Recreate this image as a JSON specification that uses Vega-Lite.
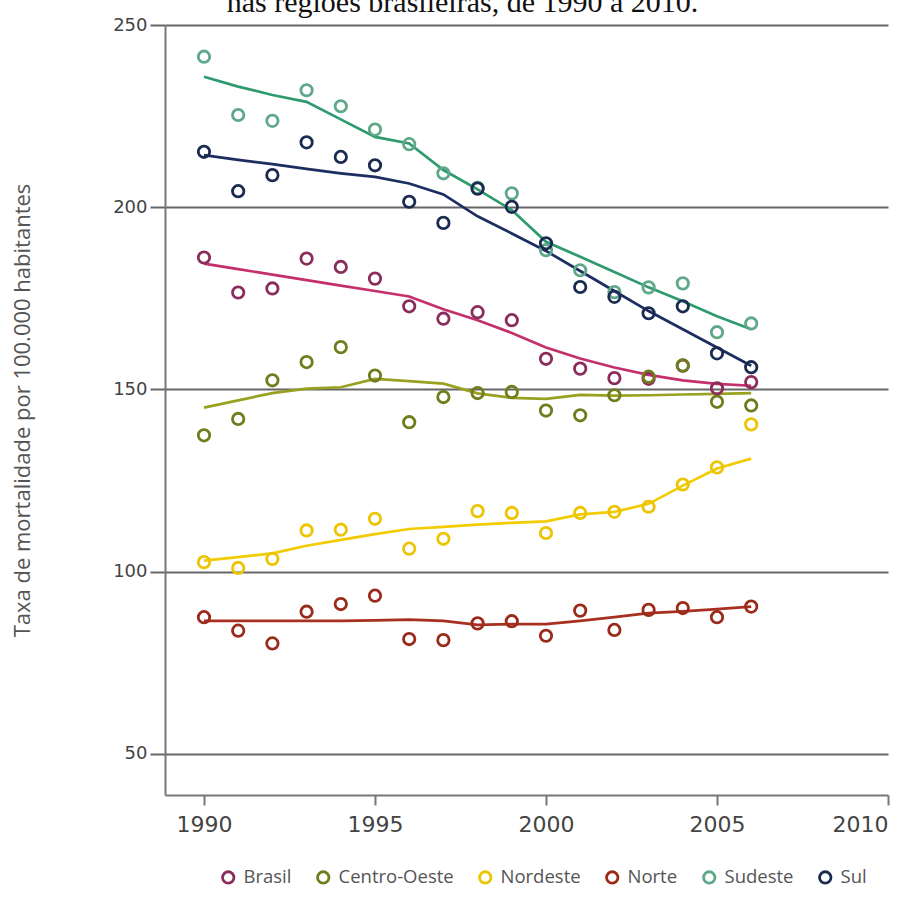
{
  "$schema": "https://vega.github.io/schema/vega-lite/v6.json",
  "width": 723,
  "height": 770,
  "autosize": {"type": "none"},
  "padding": {"left": 165, "top": 25, "right": 30, "bottom": 107},
  "background": "white",
  "title": {
    "text": "nas regiões brasileiras, de 1990 a 2010.",
    "font": "Liberation Serif",
    "fontSize": 30,
    "fontWeight": "normal",
    "color": "#111111",
    "anchor": "middle",
    "frame": "group",
    "dx": -64,
    "offset": -26,
    "baseline": "alphabetic"
  },
  "datasets": {
    "pts": [
      {"year": 1990, "region": "Brasil", "value": 186.2},
      {"year": 1991, "region": "Brasil", "value": 176.6},
      {"year": 1992, "region": "Brasil", "value": 177.7},
      {"year": 1993, "region": "Brasil", "value": 185.9},
      {"year": 1994, "region": "Brasil", "value": 183.6},
      {"year": 1995, "region": "Brasil", "value": 180.4},
      {"year": 1996, "region": "Brasil", "value": 172.8},
      {"year": 1997, "region": "Brasil", "value": 169.4},
      {"year": 1998, "region": "Brasil", "value": 171.2},
      {"year": 1999, "region": "Brasil", "value": 169.0},
      {"year": 2000, "region": "Brasil", "value": 158.4},
      {"year": 2001, "region": "Brasil", "value": 155.7},
      {"year": 2002, "region": "Brasil", "value": 153.1},
      {"year": 2003, "region": "Brasil", "value": 152.9},
      {"year": 2004, "region": "Brasil", "value": 156.5},
      {"year": 2005, "region": "Brasil", "value": 150.3},
      {"year": 2006, "region": "Brasil", "value": 152.0},
      {"year": 1990, "region": "Centro-Oeste", "value": 137.4},
      {"year": 1991, "region": "Centro-Oeste", "value": 141.9},
      {"year": 1992, "region": "Centro-Oeste", "value": 152.5},
      {"year": 1993, "region": "Centro-Oeste", "value": 157.5},
      {"year": 1994, "region": "Centro-Oeste", "value": 161.6},
      {"year": 1995, "region": "Centro-Oeste", "value": 153.8},
      {"year": 1996, "region": "Centro-Oeste", "value": 141.0},
      {"year": 1997, "region": "Centro-Oeste", "value": 147.9},
      {"year": 1998, "region": "Centro-Oeste", "value": 149.0},
      {"year": 1999, "region": "Centro-Oeste", "value": 149.3},
      {"year": 2000, "region": "Centro-Oeste", "value": 144.2},
      {"year": 2001, "region": "Centro-Oeste", "value": 142.9},
      {"year": 2002, "region": "Centro-Oeste", "value": 148.4},
      {"year": 2003, "region": "Centro-Oeste", "value": 153.5},
      {"year": 2004, "region": "Centro-Oeste", "value": 156.6},
      {"year": 2005, "region": "Centro-Oeste", "value": 146.6},
      {"year": 2006, "region": "Centro-Oeste", "value": 145.6},
      {"year": 1990, "region": "Nordeste", "value": 102.6},
      {"year": 1991, "region": "Nordeste", "value": 101.0},
      {"year": 1992, "region": "Nordeste", "value": 103.5},
      {"year": 1993, "region": "Nordeste", "value": 111.3},
      {"year": 1994, "region": "Nordeste", "value": 111.5},
      {"year": 1995, "region": "Nordeste", "value": 114.5},
      {"year": 1996, "region": "Nordeste", "value": 106.3},
      {"year": 1997, "region": "Nordeste", "value": 109.0},
      {"year": 1998, "region": "Nordeste", "value": 116.6},
      {"year": 1999, "region": "Nordeste", "value": 116.1},
      {"year": 2000, "region": "Nordeste", "value": 110.6},
      {"year": 2001, "region": "Nordeste", "value": 116.1},
      {"year": 2002, "region": "Nordeste", "value": 116.4},
      {"year": 2003, "region": "Nordeste", "value": 117.8},
      {"year": 2004, "region": "Nordeste", "value": 123.9},
      {"year": 2005, "region": "Nordeste", "value": 128.6},
      {"year": 2006, "region": "Nordeste", "value": 140.4},
      {"year": 1990, "region": "Norte", "value": 87.5},
      {"year": 1991, "region": "Norte", "value": 83.8},
      {"year": 1992, "region": "Norte", "value": 80.3},
      {"year": 1993, "region": "Norte", "value": 89.0},
      {"year": 1994, "region": "Norte", "value": 91.1},
      {"year": 1995, "region": "Norte", "value": 93.4},
      {"year": 1996, "region": "Norte", "value": 81.5},
      {"year": 1997, "region": "Norte", "value": 81.2},
      {"year": 1998, "region": "Norte", "value": 85.8},
      {"year": 1999, "region": "Norte", "value": 86.4},
      {"year": 2000, "region": "Norte", "value": 82.4},
      {"year": 2001, "region": "Norte", "value": 89.3},
      {"year": 2002, "region": "Norte", "value": 84.0},
      {"year": 2003, "region": "Norte", "value": 89.5},
      {"year": 2004, "region": "Norte", "value": 90.0},
      {"year": 2005, "region": "Norte", "value": 87.5},
      {"year": 2006, "region": "Norte", "value": 90.4},
      {"year": 1990, "region": "Sudeste", "value": 241.3},
      {"year": 1991, "region": "Sudeste", "value": 225.3},
      {"year": 1992, "region": "Sudeste", "value": 223.7},
      {"year": 1993, "region": "Sudeste", "value": 232.1},
      {"year": 1994, "region": "Sudeste", "value": 227.7},
      {"year": 1995, "region": "Sudeste", "value": 221.3},
      {"year": 1996, "region": "Sudeste", "value": 217.3},
      {"year": 1997, "region": "Sudeste", "value": 209.3},
      {"year": 1998, "region": "Sudeste", "value": 205.3},
      {"year": 1999, "region": "Sudeste", "value": 203.8},
      {"year": 2000, "region": "Sudeste", "value": 188.2},
      {"year": 2001, "region": "Sudeste", "value": 182.7},
      {"year": 2002, "region": "Sudeste", "value": 176.7},
      {"year": 2003, "region": "Sudeste", "value": 178.0},
      {"year": 2004, "region": "Sudeste", "value": 179.1},
      {"year": 2005, "region": "Sudeste", "value": 165.7},
      {"year": 2006, "region": "Sudeste", "value": 168.1},
      {"year": 1990, "region": "Sul", "value": 215.2},
      {"year": 1991, "region": "Sul", "value": 204.4},
      {"year": 1992, "region": "Sul", "value": 208.8},
      {"year": 1993, "region": "Sul", "value": 217.8},
      {"year": 1994, "region": "Sul", "value": 213.8},
      {"year": 1995, "region": "Sul", "value": 211.5},
      {"year": 1996, "region": "Sul", "value": 201.5},
      {"year": 1997, "region": "Sul", "value": 195.7},
      {"year": 1998, "region": "Sul", "value": 205.1},
      {"year": 1999, "region": "Sul", "value": 200.1},
      {"year": 2000, "region": "Sul", "value": 190.1},
      {"year": 2001, "region": "Sul", "value": 178.1},
      {"year": 2002, "region": "Sul", "value": 175.4},
      {"year": 2003, "region": "Sul", "value": 170.9},
      {"year": 2004, "region": "Sul", "value": 172.8},
      {"year": 2005, "region": "Sul", "value": 159.9},
      {"year": 2006, "region": "Sul", "value": 156.1}
    ],
    "fit": [
      {"year": 1990, "regiao": "Brasil", "value": 184.5},
      {"year": 1991, "regiao": "Brasil", "value": 183.0},
      {"year": 1992, "regiao": "Brasil", "value": 181.5},
      {"year": 1993, "regiao": "Brasil", "value": 180.0},
      {"year": 1994, "regiao": "Brasil", "value": 178.5},
      {"year": 1995, "regiao": "Brasil", "value": 177.0},
      {"year": 1996, "regiao": "Brasil", "value": 175.5},
      {"year": 1997, "regiao": "Brasil", "value": 172.0},
      {"year": 1998, "regiao": "Brasil", "value": 169.0},
      {"year": 1999, "regiao": "Brasil", "value": 165.5},
      {"year": 2000, "regiao": "Brasil", "value": 161.5},
      {"year": 2001, "regiao": "Brasil", "value": 158.5},
      {"year": 2002, "regiao": "Brasil", "value": 156.0},
      {"year": 2003, "regiao": "Brasil", "value": 154.0},
      {"year": 2004, "regiao": "Brasil", "value": 152.5},
      {"year": 2005, "regiao": "Brasil", "value": 151.5},
      {"year": 2006, "regiao": "Brasil", "value": 151.0},
      {"year": 1990, "regiao": "Centro-Oeste", "value": 145.0},
      {"year": 1991, "regiao": "Centro-Oeste", "value": 147.0},
      {"year": 1992, "regiao": "Centro-Oeste", "value": 149.0},
      {"year": 1993, "regiao": "Centro-Oeste", "value": 150.2},
      {"year": 1994, "regiao": "Centro-Oeste", "value": 150.6},
      {"year": 1995, "regiao": "Centro-Oeste", "value": 152.9},
      {"year": 1996, "regiao": "Centro-Oeste", "value": 152.3},
      {"year": 1997, "regiao": "Centro-Oeste", "value": 151.6},
      {"year": 1998, "regiao": "Centro-Oeste", "value": 148.9},
      {"year": 1999, "regiao": "Centro-Oeste", "value": 147.7},
      {"year": 2000, "regiao": "Centro-Oeste", "value": 147.4},
      {"year": 2001, "regiao": "Centro-Oeste", "value": 148.5},
      {"year": 2002, "regiao": "Centro-Oeste", "value": 148.3},
      {"year": 2003, "regiao": "Centro-Oeste", "value": 148.4},
      {"year": 2004, "regiao": "Centro-Oeste", "value": 148.6},
      {"year": 2005, "regiao": "Centro-Oeste", "value": 148.8},
      {"year": 2006, "regiao": "Centro-Oeste", "value": 149.0},
      {"year": 1990, "regiao": "Nordeste", "value": 103.0},
      {"year": 1991, "regiao": "Nordeste", "value": 104.0},
      {"year": 1992, "regiao": "Nordeste", "value": 105.0},
      {"year": 1993, "regiao": "Nordeste", "value": 107.1},
      {"year": 1994, "regiao": "Nordeste", "value": 108.7},
      {"year": 1995, "regiao": "Nordeste", "value": 110.3},
      {"year": 1996, "regiao": "Nordeste", "value": 111.7},
      {"year": 1997, "regiao": "Nordeste", "value": 112.3},
      {"year": 1998, "regiao": "Nordeste", "value": 112.9},
      {"year": 1999, "regiao": "Nordeste", "value": 113.4},
      {"year": 2000, "regiao": "Nordeste", "value": 113.8},
      {"year": 2001, "regiao": "Nordeste", "value": 115.7},
      {"year": 2002, "regiao": "Nordeste", "value": 116.4},
      {"year": 2003, "regiao": "Nordeste", "value": 118.6},
      {"year": 2004, "regiao": "Nordeste", "value": 123.6},
      {"year": 2005, "regiao": "Nordeste", "value": 128.3},
      {"year": 2006, "regiao": "Nordeste", "value": 131.0},
      {"year": 1990, "regiao": "Norte", "value": 86.5},
      {"year": 1991, "regiao": "Norte", "value": 86.5},
      {"year": 1992, "regiao": "Norte", "value": 86.5},
      {"year": 1993, "regiao": "Norte", "value": 86.5},
      {"year": 1994, "regiao": "Norte", "value": 86.5},
      {"year": 1995, "regiao": "Norte", "value": 86.6},
      {"year": 1996, "regiao": "Norte", "value": 86.8},
      {"year": 1997, "regiao": "Norte", "value": 86.5},
      {"year": 1998, "regiao": "Norte", "value": 85.4},
      {"year": 1999, "regiao": "Norte", "value": 85.6},
      {"year": 2000, "regiao": "Norte", "value": 85.6},
      {"year": 2001, "regiao": "Norte", "value": 86.5},
      {"year": 2002, "regiao": "Norte", "value": 87.5},
      {"year": 2003, "regiao": "Norte", "value": 88.6},
      {"year": 2004, "regiao": "Norte", "value": 89.1},
      {"year": 2005, "regiao": "Norte", "value": 89.7},
      {"year": 2006, "regiao": "Norte", "value": 90.4},
      {"year": 1990, "regiao": "Sudeste", "value": 235.8},
      {"year": 1991, "regiao": "Sudeste", "value": 233.1},
      {"year": 1992, "regiao": "Sudeste", "value": 230.8},
      {"year": 1993, "regiao": "Sudeste", "value": 228.9},
      {"year": 1994, "regiao": "Sudeste", "value": 224.1},
      {"year": 1995, "regiao": "Sudeste", "value": 219.3},
      {"year": 1996, "regiao": "Sudeste", "value": 217.5},
      {"year": 1997, "regiao": "Sudeste", "value": 210.2},
      {"year": 1998, "regiao": "Sudeste", "value": 204.9},
      {"year": 1999, "regiao": "Sudeste", "value": 199.2},
      {"year": 2000, "regiao": "Sudeste", "value": 190.5},
      {"year": 2001, "regiao": "Sudeste", "value": 186.4},
      {"year": 2002, "regiao": "Sudeste", "value": 182.2},
      {"year": 2003, "regiao": "Sudeste", "value": 178.0},
      {"year": 2004, "regiao": "Sudeste", "value": 174.2},
      {"year": 2005, "regiao": "Sudeste", "value": 170.1},
      {"year": 2006, "regiao": "Sudeste", "value": 166.5},
      {"year": 1990, "regiao": "Sul", "value": 214.3},
      {"year": 1991, "regiao": "Sul", "value": 213.0},
      {"year": 1992, "regiao": "Sul", "value": 211.8},
      {"year": 1993, "regiao": "Sul", "value": 210.5},
      {"year": 1994, "regiao": "Sul", "value": 209.3},
      {"year": 1995, "regiao": "Sul", "value": 208.3},
      {"year": 1996, "regiao": "Sul", "value": 206.5},
      {"year": 1997, "regiao": "Sul", "value": 203.5},
      {"year": 1998, "regiao": "Sul", "value": 197.5},
      {"year": 1999, "regiao": "Sul", "value": 192.8},
      {"year": 2000, "regiao": "Sul", "value": 188.0},
      {"year": 2001, "regiao": "Sul", "value": 182.5},
      {"year": 2002, "regiao": "Sul", "value": 177.0},
      {"year": 2003, "regiao": "Sul", "value": 171.5},
      {"year": 2004, "regiao": "Sul", "value": 166.5},
      {"year": 2005, "regiao": "Sul", "value": 161.5},
      {"year": 2006, "regiao": "Sul", "value": 156.5}
    ]
  },
  "encoding": {
    "x": {
      "field": "year",
      "type": "quantitative",
      "scale": {"domain": [1988.86, 2010], "nice": false, "zero": false},
      "axis": {
        "values": [1990, 1995, 2000, 2005, 2010],
        "format": "d",
        "title": null,
        "grid": false,
        "domainColor": "#777777",
        "domainWidth": 2,
        "tickColor": "#777777",
        "tickWidth": 2,
        "tickSize": 10,
        "labelFont": "DejaVu Sans",
        "labelFontSize": 22,
        "labelColor": "#444444",
        "labelPadding": 9
      }
    },
    "y": {
      "field": "value",
      "type": "quantitative",
      "scale": {"domain": [38.7, 250], "nice": false, "zero": false},
      "axis": {
        "values": [50, 100, 150, 200, 250],
        "title": "Taxa de mortalidade por 100.000 habitantes",
        "titleFont": "Open Sans",
        "titleFontSize": 22,
        "titleFontWeight": "normal",
        "titleColor": "#555555",
        "titlePadding": 78,
        "grid": true,
        "gridColor": "#666666",
        "gridWidth": 2,
        "domainColor": "#777777",
        "domainWidth": 2,
        "tickColor": "#666666",
        "tickWidth": 2,
        "tickSize": 15,
        "labelFont": "DejaVu Sans",
        "labelFontSize": 18,
        "labelColor": "#444444",
        "labelPadding": 3
      }
    }
  },
  "layer": [
    {
      "data": {"name": "fit"},
      "mark": {"type": "line", "strokeWidth": 2.7, "interpolate": "linear"},
      "encoding": {
        "color": {
          "field": "regiao",
          "type": "nominal",
          "scale": {
            "domain": ["Brasil", "Centro-Oeste", "Nordeste", "Norte", "Sudeste", "Sul"],
            "range": ["#c4306c", "#9aa020", "#f2cc00", "#a83020", "#2e9a6e", "#1c2d60"]
          },
          "legend": null
        }
      }
    },
    {
      "data": {"name": "pts"},
      "mark": {"type": "point", "shape": "circle", "filled": false, "size": 130, "strokeWidth": 2.8, "opacity": 1},
      "encoding": {
        "stroke": {
          "field": "region",
          "type": "nominal",
          "scale": {
            "domain": ["Brasil", "Centro-Oeste", "Nordeste", "Norte", "Sudeste", "Sul"],
            "range": ["#8a2d5c", "#6f7d1c", "#ecc400", "#9a2a1a", "#5fa88a", "#1a2a50"]
          },
          "legend": {
            "title": null,
            "orient": "none",
            "legendX": 54,
            "legendY": 843,
            "direction": "horizontal",
            "symbolType": "circle",
            "symbolSize": 130,
            "symbolStrokeWidth": 2.8,
            "labelFont": "Open Sans",
            "labelFontSize": 18.5,
            "labelColor": "#555555",
            "labelOffset": 6,
            "columnPadding": 19
          }
        }
      }
    }
  ],
  "resolve": {"scale": {"color": "independent"}},
  "config": {
    "view": {"stroke": null}
  }
}
